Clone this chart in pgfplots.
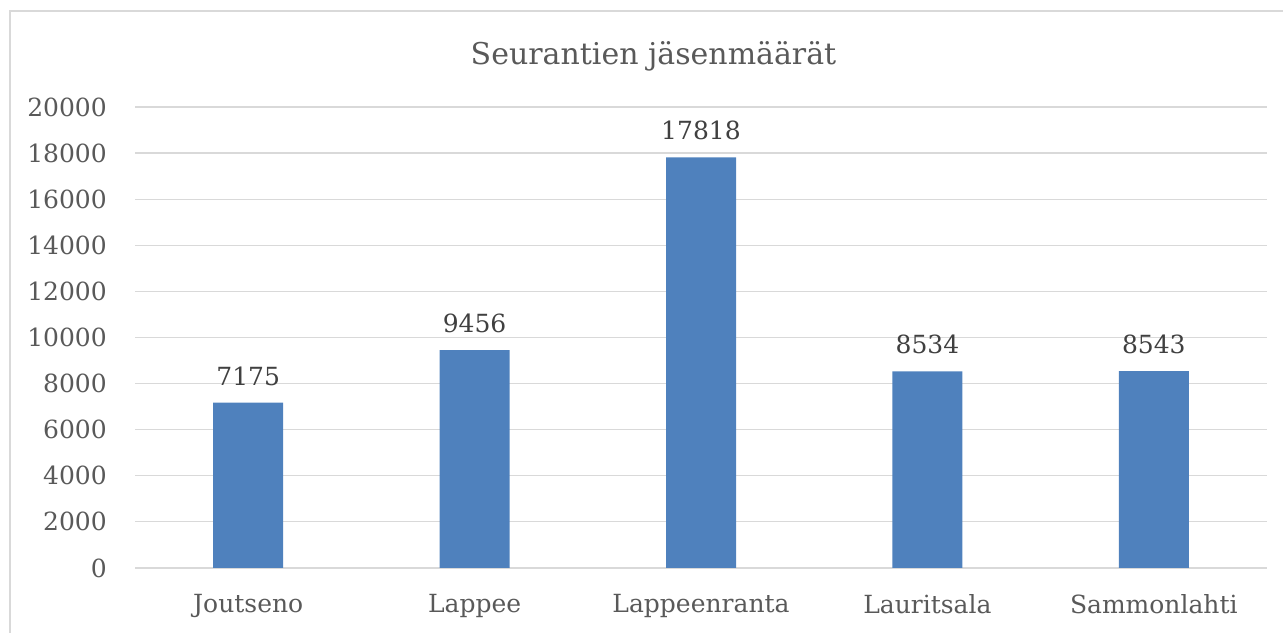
\documentclass[border=0pt]{standalone}
\usepackage{fontspec}
\setmainfont{DejaVu Serif}
\usepackage{pgfplots}
\pgfplotsset{compat=1.18}
\definecolor{barblue}{HTML}{4F81BD}
\definecolor{txtgray}{HTML}{595959}
\definecolor{lblgray}{HTML}{404040}
\definecolor{gridgray}{HTML}{D9D9D9}
\begin{document}
\begin{tikzpicture}[x=1bp,y=1bp]
\useasboundingbox (0,0) rectangle (1283,633);
\draw[gridgray, line width=1.5bp] (10,-20) -- (10,622) -- (1300,622);
\node[anchor=base, font=\fontsize{30bp}{36bp}\selectfont, text=txtgray, inner sep=0pt] at (653.5,568) {Seurantien jäsenmäärät};
\begin{axis}[
  at={(135bp,65bp)}, anchor=south west,
  scale only axis, width=1132bp, height=461bp,
  xmin=-0.5, xmax=4.5, ymin=0, ymax=20000,
  xtick=data,
  xticklabels={Joutseno,Lappee,Lappeenranta,Lauritsala,Sammonlahti},
  ytick={0,2000,...,20000},
  ymajorgrids, grid style={gridgray, line width=1.2bp},
  axis line style={draw=none},
  major tick length=0pt,
  scaled y ticks=false,
  /pgf/number format/assume math mode=true,
  yticklabel={\pgfmathprintnumber[fixed,precision=0,1000 sep={}]{\tick}},
  ticklabel style={font=\fontsize{25bp}{30bp}\selectfont, text=txtgray},
  yticklabel style={anchor=east, inner sep=0pt, xshift=-28bp},
  xticklabel style={anchor=north, inner sep=0pt, yshift=-26bp},
  ybar, bar width=70bp,
  nodes near coords,
  nodes near coords style={font=\fontsize{25bp}{30bp}\selectfont, text=lblgray, anchor=south, inner sep=0pt, yshift=17bp, /pgf/number format/.cd, fixed, precision=0, 1000 sep={}},
  clip=false,
]
\addplot[fill=barblue, draw=none] coordinates {(0,7175) (1,9456) (2,17818) (3,8534) (4,8543)};
\end{axis}
\end{tikzpicture}
\end{document}
